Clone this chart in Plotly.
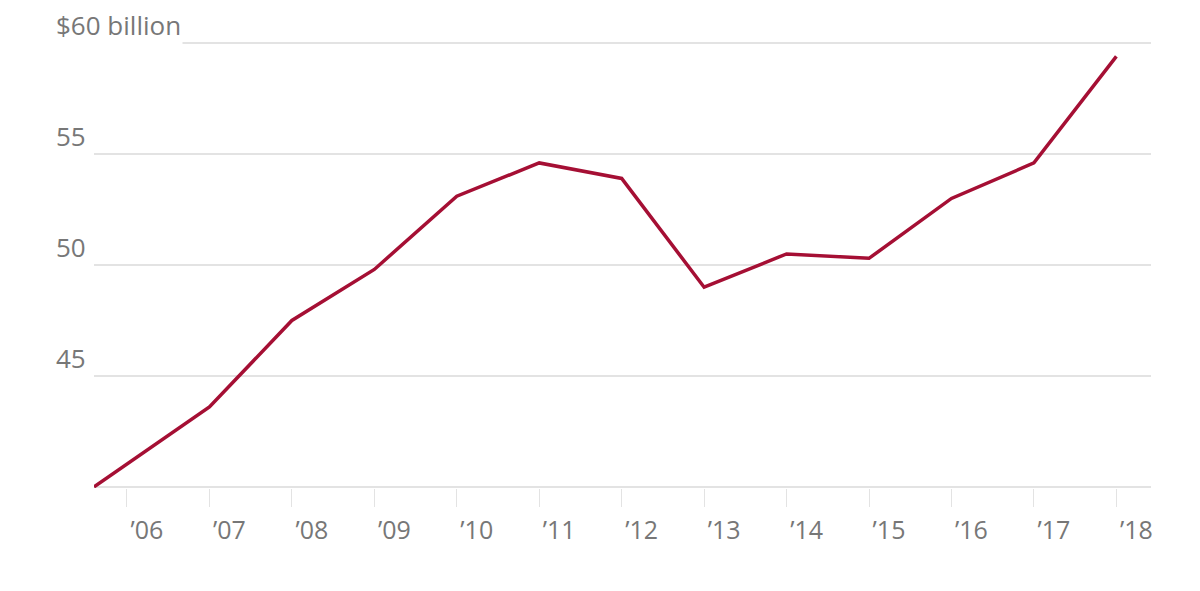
import plotly.graph_objects as go

years = [2005.6, 2007, 2008, 2009, 2010, 2011, 2012, 2013, 2014, 2015, 2016, 2017, 2018]
values = [40.0, 43.6, 47.5, 49.8, 53.1, 54.6, 53.9, 49.0, 50.5, 50.3, 53.0, 54.6, 59.4]
tick_years = list(range(2006, 2019))
tick_labels = ["’%02d" % (y % 100) for y in tick_years]
y_ticks = [40, 45, 50, 55, 60]
y_labels = ["", "45", "50", "55", "$60 billion"]

fig = go.Figure()
fig.add_trace(go.Scatter(x=years, y=values, mode="lines",
                         line=dict(color="#a50f34", width=3.5), hoverinfo="skip"))

for v, lab in zip(y_ticks, y_labels):
    if lab:
        fig.add_annotation(x=-40 / 1057, y=v, xref="paper", yref="y", text=lab,
                           showarrow=False, xanchor="left", yanchor="bottom",
                           yshift=-2, bgcolor="white",
                           font=dict(size=26, color="#777777"))

fig.update_layout(
    width=1200, height=591,
    margin=dict(l=86, r=57, t=34, b=111),
    plot_bgcolor="white", paper_bgcolor="white",
    showlegend=False,
    font=dict(family="Open Sans, Lato, sans-serif", color="#777777", size=25),
    xaxis=dict(range=[2005.6, 2018.42], tickvals=tick_years, ticktext=tick_labels,
               showgrid=False, zeroline=False, ticks="outside", ticklen=18,
               tickcolor="#e3e3e3", showline=False, ticklabelshift=20,
               ticklabelstandoff=2, fixedrange=True),
    yaxis=dict(range=[39.95, 60.05], tickvals=y_ticks, showticklabels=False,
               showgrid=True, gridcolor="#e3e3e3", gridwidth=1.5, zeroline=False,
               fixedrange=True),
)
fig.write_html("out.html")
